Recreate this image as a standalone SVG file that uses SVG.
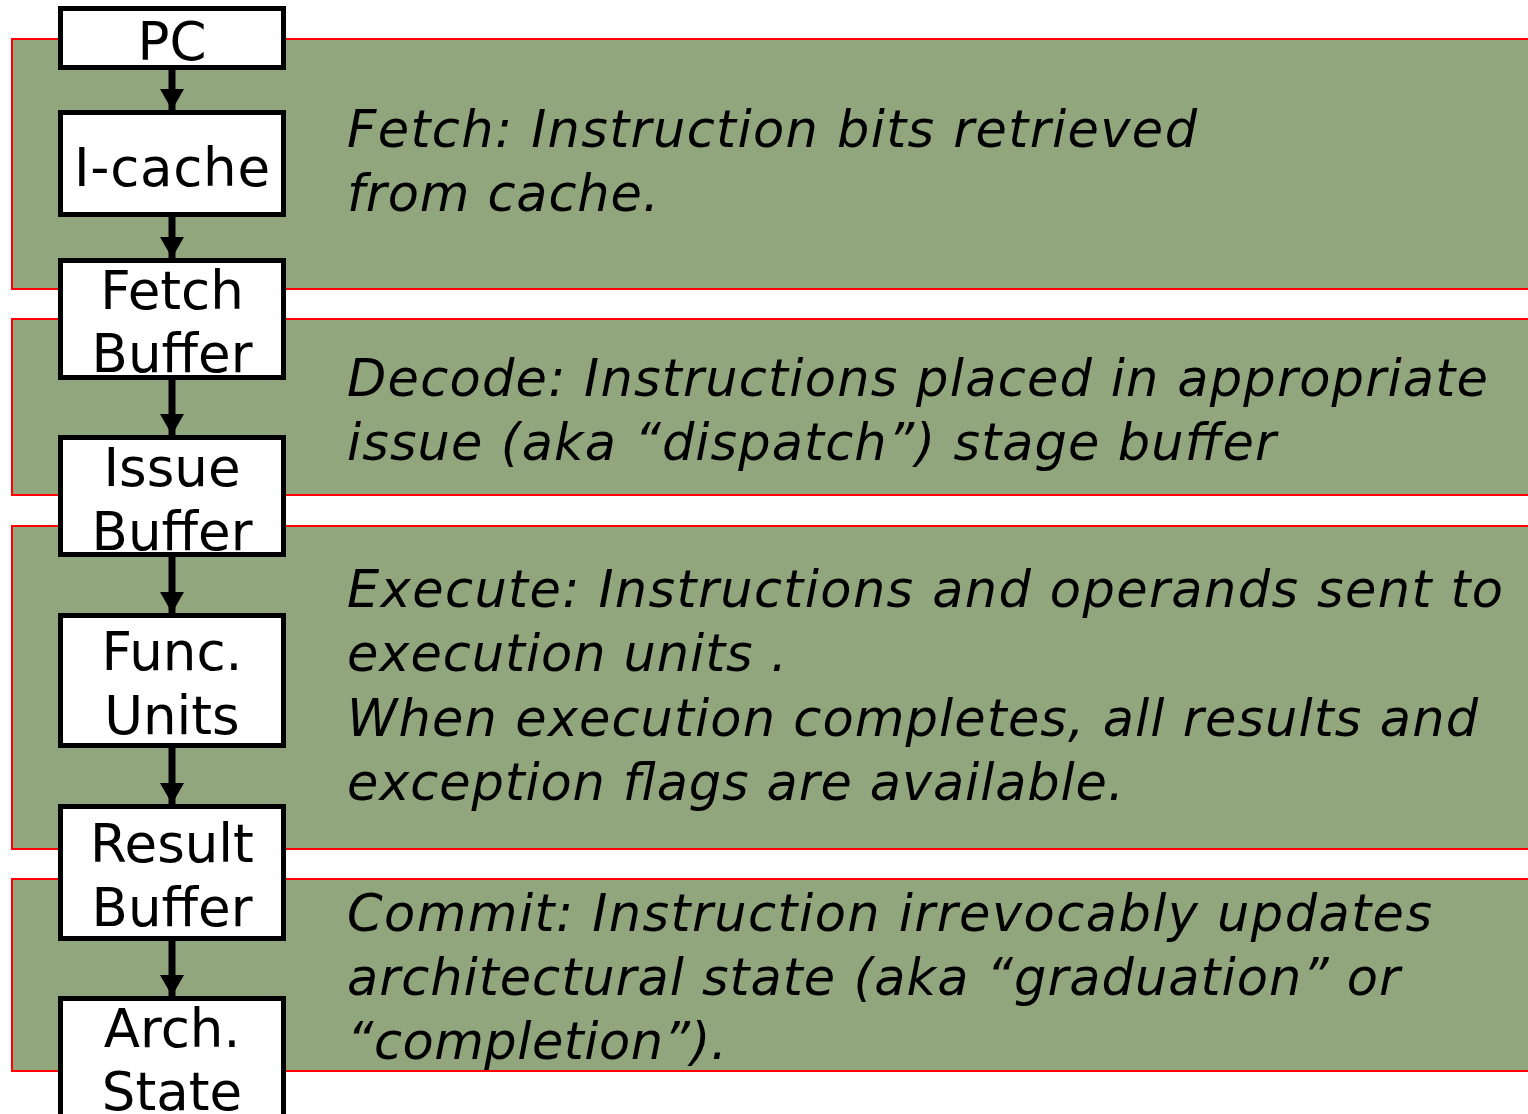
<svg xmlns="http://www.w3.org/2000/svg" width="1528" height="1114" viewBox="0 0 1528 1114">
<defs>
<style>
.band{fill:#91A67C;stroke:#FF0000;stroke-width:2}
.box{fill:#FFFFFF;stroke:#000000;stroke-width:5}
.lbl{font-family:"DejaVu Sans",Verdana,sans-serif;font-size:53px;fill:#000;text-anchor:middle}
.desc{font-family:"DejaVu Sans",Verdana,sans-serif;font-size:51px;font-style:italic;fill:#000}
.conn{stroke:#000;stroke-width:7;fill:none}
</style>
<marker id="ah" markerWidth="21" markerHeight="24" refX="21" refY="12" orient="auto" markerUnits="userSpaceOnUse" viewBox="0 0 21 24">
<path d="M0,0 L21,12 L0,24 Z" fill="#000"/>
</marker>
</defs>
<rect width="1528" height="1114" fill="#FFFFFF"/>
<g id="bands">
<rect id="band-fetch" class="band" x="12" y="39" width="1530" height="250"/>
<rect id="band-decode" class="band" x="12" y="319" width="1530" height="176"/>
<rect id="band-execute" class="band" x="12" y="526" width="1530" height="323"/>
<rect id="band-commit" class="band" x="12" y="879" width="1530" height="192"/>
</g>
<g id="descriptions">
<text class="desc"><tspan x="347" y="147" textLength="850">Fetch: Instruction bits retrieved</tspan></text>
<text class="desc"><tspan x="347" y="211" textLength="312">from cache.</tspan></text>
<text class="desc"><tspan x="347" y="396" textLength="1141">Decode: Instructions placed in appropriate</tspan></text>
<text class="desc"><tspan x="347" y="460" textLength="929">issue (aka “dispatch”) stage buffer</tspan></text>
<text class="desc"><tspan x="347" y="607" textLength="1156">Execute: Instructions and operands sent to</tspan></text>
<text class="desc"><tspan x="347" y="671" textLength="440">execution units .</tspan></text>
<text class="desc"><tspan x="347" y="736" textLength="1131">When execution completes, all results and</tspan></text>
<text class="desc"><tspan x="347" y="800" textLength="777">exception flags are available.</tspan></text>
<text class="desc"><tspan x="347" y="931" textLength="1085">Commit: Instruction irrevocably updates</tspan></text>
<text class="desc"><tspan x="347" y="995" textLength="1053">architectural state (aka “graduation” or</tspan></text>
<text class="desc"><tspan x="347" y="1059" textLength="380">“completion”).</tspan></text>
</g>
<g id="connectors">
<line class="conn" x1="172" y1="69" x2="172" y2="110" marker-end="url(#ah)"/>
<line class="conn" x1="172" y1="217" x2="172" y2="258" marker-end="url(#ah)"/>
<line class="conn" x1="172" y1="380" x2="172" y2="435" marker-end="url(#ah)"/>
<line class="conn" x1="172" y1="557" x2="172" y2="613" marker-end="url(#ah)"/>
<line class="conn" x1="172" y1="748" x2="172" y2="804" marker-end="url(#ah)"/>
<line class="conn" x1="172" y1="941" x2="172" y2="996" marker-end="url(#ah)"/>
</g>
<g id="node-pc"><rect class="box" x="60.5" y="8.5" width="223" height="59"/><text class="lbl" x="172" y="60">PC</text></g>
<g id="node-icache"><rect class="box" x="60.5" y="112.5" width="223" height="102"/><text class="lbl" x="172" y="186" textLength="196">I-cache</text></g>
<g id="node-fetchbuf"><rect class="box" x="60.5" y="260.5" width="223" height="117"/><text class="lbl" x="172" y="309">Fetch</text><text class="lbl" x="172" y="372">Buffer</text></g>
<g id="node-issuebuf"><rect class="box" x="60.5" y="437.5" width="223" height="117"/><text class="lbl" x="172" y="486">Issue</text><text class="lbl" x="172" y="550">Buffer</text></g>
<g id="node-funcunits"><rect class="box" x="60.5" y="615.5" width="223" height="130"/><text class="lbl" x="172" y="670">Func.</text><text class="lbl" x="172" y="734">Units</text></g>
<g id="node-resultbuf"><rect class="box" x="60.5" y="806.5" width="223" height="132"/><text class="lbl" x="172" y="862">Result</text><text class="lbl" x="172" y="926">Buffer</text></g>
<g id="node-archstate"><rect class="box" x="60.5" y="998.5" width="223" height="130"/><text class="lbl" x="172" y="1047">Arch.</text><text class="lbl" x="172" y="1110">State</text></g>
</svg>
